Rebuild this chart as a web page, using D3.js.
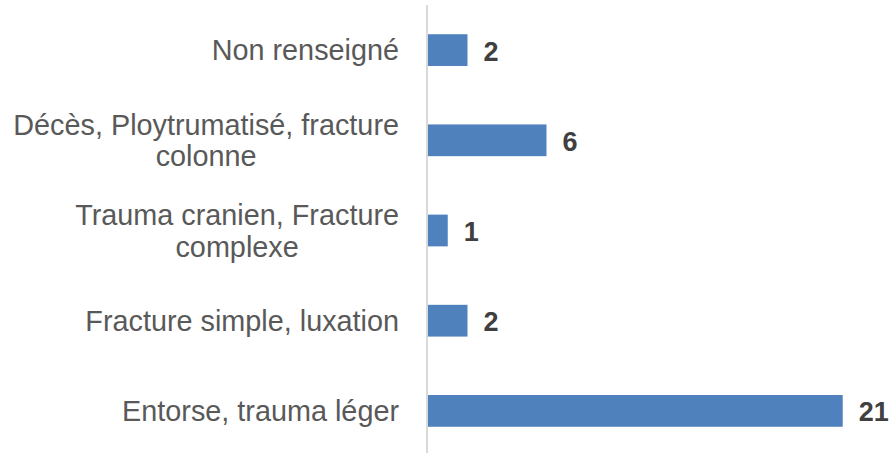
<!DOCTYPE html>
<html>
<head>
<meta charset="utf-8">
<script src="https://cdn.jsdelivr.net/npm/d3@7"></script>
<style>
  html, body { margin: 0; padding: 0; background: #fff; }
  svg { display: block; }
</style>
</head>
<body>
<script>
// ─── DATA ────────────────────────────────────────────────────────────────
const categories = [
  ["Non renseigné"],
  ["Décès, Ploytrumatisé, fracture", "colonne"],
  ["Trauma cranien, Fracture", "complexe"],
  ["Fracture simple, luxation"],
  ["Entorse, trauma léger"]
];
const values = [2, 6, 1, 2, 21];

// ─── LAYOUT ──────────────────────────────────────────────────────────────
const width  = 891;
const height = 453;
const axisX  = 427;

const svg = d3.select("body")
  .append("svg")
    .attr("width", width)
    .attr("height", height);

const ids = categories.map((c, i) => i);

const y = d3.scaleBand()
  .domain(ids)
  .range([5, 456])
  .paddingInner(0.648)
  .paddingOuter(0.324);

const x = d3.scaleLinear()
  .domain([0, 21])
  .range([axisX + 1, 842.7]);

// bars
svg.selectAll("rect.bar")
  .data(values)
  .join("rect")
    .attr("class", "bar")
    .attr("x", x(0))
    .attr("y", (d, i) => y(i))
    .attr("width", d => x(d) - x(0))
    .attr("height", y.bandwidth())
    .attr("fill", "#4F81BD");

// vertical category axis line
svg.append("line")
  .attr("x1", axisX)
  .attr("x2", axisX)
  .attr("y1", 5)
  .attr("y2", height)
  .attr("stroke", "#D9D9D9")
  .attr("stroke-width", 2);

// category labels (multi-line blocks centred, right edge fixed)
const labelRight = 399;
const lineH = 31.7;
const catFont = 28.8;

categories.forEach((lines, i) => {
  const cy = y(i) + y.bandwidth() / 2;
  const g = svg.append("text")
    .attr("font-family", "'Liberation Sans', Arial, sans-serif")
    .attr("font-size", catFont)
    .attr("fill", "#595959")
    .attr("text-anchor", "middle");
  const spans = lines.map((t, k) =>
    g.append("tspan")
      .attr("y", cy - (lines.length - 1) * lineH / 2 + k * lineH + 10.2)
      .text(t)
  );
  const maxW = d3.max(spans, s => s.node().getComputedTextLength());
  spans.forEach(s => s.attr("x", labelRight - maxW / 2));
});

// value labels
svg.selectAll("text.val")
  .data(values)
  .join("text")
    .attr("class", "val")
    .attr("x", d => x(d) + 16)
    .attr("y", (d, i) => y(i) + y.bandwidth() / 2 + 10.5)
    .attr("font-family", "'Liberation Sans', Arial, sans-serif")
    .attr("font-size", 27)
    .attr("font-weight", "bold")
    .attr("fill", "#404040")
    .text(d => d);
</script>
</body>
</html>
